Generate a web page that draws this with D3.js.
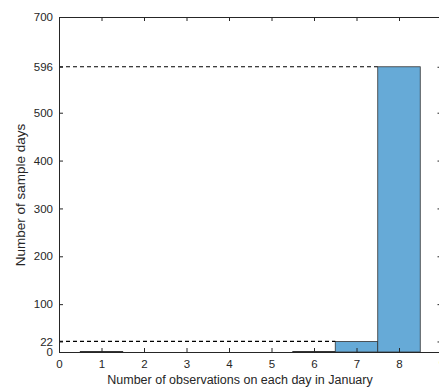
<!DOCTYPE html>
<html>
<head>
<meta charset="utf-8">
<script src="https://cdn.jsdelivr.net/npm/d3@7"></script>
<style>
  body { margin: 0; background: #fff; }
  text { font-family: "Liberation Sans", Arial, sans-serif; fill: #262626; }
</style>
</head>
<body>
<script>
// Histogram data: observations per day -> number of days
var bins = [1, 2, 3, 4, 5, 6, 7, 8]
var counts = [1, 0, 0, 0, 0, 1, 22, 596]

// Ticks
var xTicks = [0, 1, 2, 3, 4, 5, 6, 7, 8, 9]
var yTicks = [0, 22, 100, 200, 300, 400, 500, 596, 700]

// Reference lines (value, right end on x axis)
var refValues = [596, 22]
var refEnds = [7.5, 6.5]

var margin = {top: 17, left: 59}
var width = 382.5
var height = 335

var svg = d3.select("body").append("svg")
    .attr("width", 439)
    .attr("height", 389)

var g = svg.append("g")
    .attr("transform", "translate(" + margin.left + "," + margin.top + ")")

// Scales
var x = d3.scaleLinear().domain([0, 9]).range([0, width])
var y = d3.scaleLinear().domain([0, 700]).range([height, 0])

// Bars
g.selectAll("rect.bar")
    .data(bins)
    .enter().append("rect")
    .attr("class", "bar")
    .filter(function(d, i) { return counts[i] > 0 })
    .attr("x", function(d) { return x(d - 0.5) })
    .attr("y", function(d) { return y(counts[bins.indexOf(d)]) })
    .attr("width", x(1) - x(0))
    .attr("height", function(d) { return height - y(counts[bins.indexOf(d)]) })
    .style("fill", "#66aad7")
    .style("stroke", "#333")
    .style("stroke-width", 0.8)

// Dashed reference lines
g.selectAll("line.ref")
    .data(refValues)
    .enter().append("line")
    .attr("class", "ref")
    .attr("x1", 0)
    .attr("x2", function(d, i) { return x(refEnds[i]) })
    .attr("y1", function(d) { return y(d) })
    .attr("y2", function(d) { return y(d) })
    .style("stroke", "#000")
    .style("stroke-width", 1.2)
    .style("stroke-dasharray", "4,3")

// Axes (MATLAB style, ticks inside)
var xAxis = d3.axisBottom(x).tickValues(xTicks).tickSizeInner(-4).tickSizeOuter(0).tickPadding(8)
var yAxis = d3.axisLeft(y).tickValues(yTicks).tickSizeInner(-4).tickSizeOuter(0).tickPadding(6)

var gx = g.append("g")
    .attr("transform", "translate(0," + height + ")")
    .call(xAxis)

var gy = g.append("g")
    .call(yAxis)

// Top and right ticks (box on)
g.append("g")
    .call(d3.axisTop(x).tickValues(xTicks).tickSizeInner(-4).tickSizeOuter(0).tickFormat(""))
g.append("g")
    .attr("transform", "translate(" + width + ",0)")
    .call(d3.axisRight(y).tickValues(yTicks).tickSizeInner(-4).tickSizeOuter(0).tickFormat(""))

svg.selectAll(".domain, .tick line").style("stroke", "#262626")
svg.selectAll(".tick text")
    .style("font-size", "11.5px")
    .style("font-family", "'Liberation Sans', Arial, sans-serif")
    .style("fill", "#262626")

// Axis labels
svg.append("text")
    .attr("x", 240)
    .attr("y", 384)
    .style("font-size", "12.5px")
    .style("text-anchor", "middle")
    .text("Number of observations on each day in January")

svg.append("text")
    .attr("transform", "translate(25,195) rotate(-90)")
    .style("font-size", "13.5px")
    .style("text-anchor", "middle")
    .text("Number of sample days")
</script>
</body>
</html>
